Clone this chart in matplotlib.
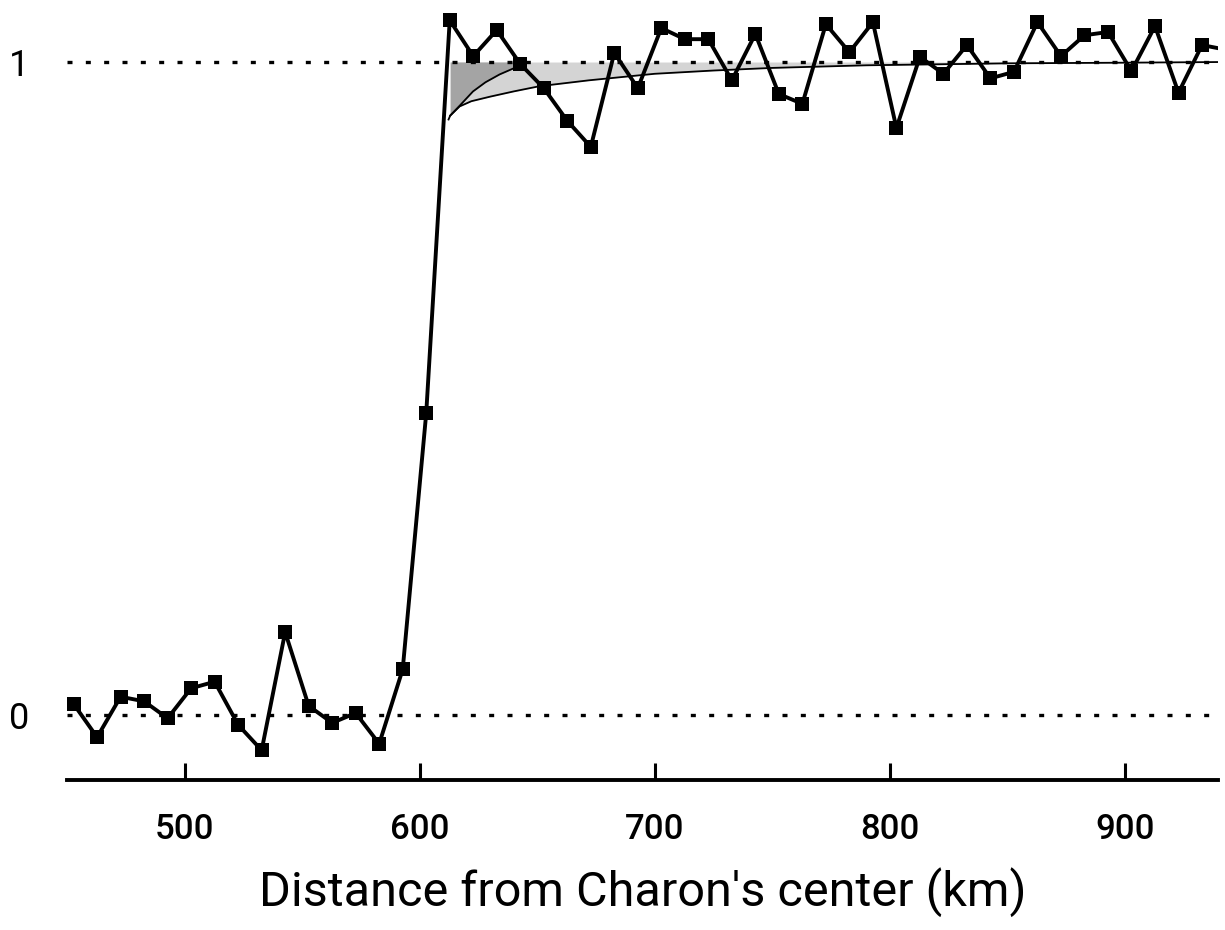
import numpy as np
from matplotlib import pyplot as plt

plt.rcParams['font.family'] = ['Roboto', 'DejaVu Sans']

# occultation light curve, normalised flux vs distance
dist = [452.8, 462.8, 472.8, 482.8, 492.8, 502.8, 512.8, 522.8, 532.8, 542.8,
        552.8, 562.8, 572.8, 582.8, 592.8, 602.8, 612.8, 622.8, 632.8, 642.8,
        652.8, 662.8, 672.8, 682.8, 692.8, 702.8, 712.8, 722.8, 732.8, 742.8,
        752.8, 762.8, 772.8, 782.8, 792.8, 802.8, 812.8, 822.8, 832.8, 842.8,
        852.8, 862.8, 872.8, 882.8, 892.8, 902.8, 912.8, 922.8, 932.8, 942.8]
flux = [0.017, -0.034, 0.028, 0.021, -0.005, 0.041, 0.051, -0.015, -0.054, 0.127,
        0.014, -0.012, 0.003, -0.044, 0.070, 0.462, 1.064, 1.009, 1.049, 0.997,
        0.960, 0.910, 0.870, 1.014, 0.960, 1.052, 1.035, 1.035, 0.972, 1.043,
        0.951, 0.936, 1.058, 1.015, 1.061, 0.899, 1.008, 0.982, 1.026, 0.975,
        0.985, 1.061, 1.009, 1.041, 1.046, 0.986, 1.055, 0.953, 1.026, 1.019]

# model curves
outer_x = [612.3, 613.0, 617.0, 622.0, 630.0, 640.0, 651.0, 672.0, 700.0,
           725.0, 750.0, 790.0, 850.0, 900.0, 940.0]
outer_y = [0.912, 0.918, 0.932, 0.940, 0.947, 0.955, 0.963, 0.972, 0.982,
           0.987, 0.991, 0.995, 0.998, 0.999, 1.000]
inner_x = [613.0, 617.0, 622.7, 628.0, 634.0, 640.4, 643.5]
inner_y = [0.918, 0.933, 0.955, 0.969, 0.981, 0.991, 1.000]

fig = plt.figure(figsize=(12.25, 9.3), dpi=100)
ax = fig.add_axes([67 / 1225, 150 / 930, 1151 / 1225, 780 / 930])

ax.fill_between(outer_x[1:], outer_y[1:], 1.0, color='#d4d4d4', lw=0)
ax.fill_between(inner_x, inner_y, 1.0, color='#a4a4a4', lw=0)
ax.plot(outer_x, outer_y, color='black', lw=1.3)
ax.plot(inner_x, inner_y, color='black', lw=1.3)

for lvl in (0, 1):
    ax.axhline(lvl, color='black', lw=2.4, linestyle=(0, (1.5, 4)))

ax.plot(dist, flux, color='black', lw=2.8, marker='s', markersize=10,
        markeredgewidth=0)

ax.set_xlim(450, 939.6)
ax.set_ylim(-0.0995, 1.095)

for side in ('left', 'right', 'top'):
    ax.spines[side].set_visible(False)
ax.spines['bottom'].set_linewidth(2.8)

ax.set_xticks([500, 600, 700, 800, 900])
ax.tick_params(axis='x', direction='in', length=12, width=2.2, pad=24,
               labelsize=25)
for lab in ax.get_xticklabels():
    lab.set_fontweight('medium')
ax.set_yticks([0, 1])
ax.set_yticklabels(['0', '1'])
ax.tick_params(axis='y', length=0, pad=27, labelsize=26)

ax.set_xlabel("Distance from Charon's center (km)", fontsize=35, labelpad=15)

fig.savefig('out.png', dpi=100)
